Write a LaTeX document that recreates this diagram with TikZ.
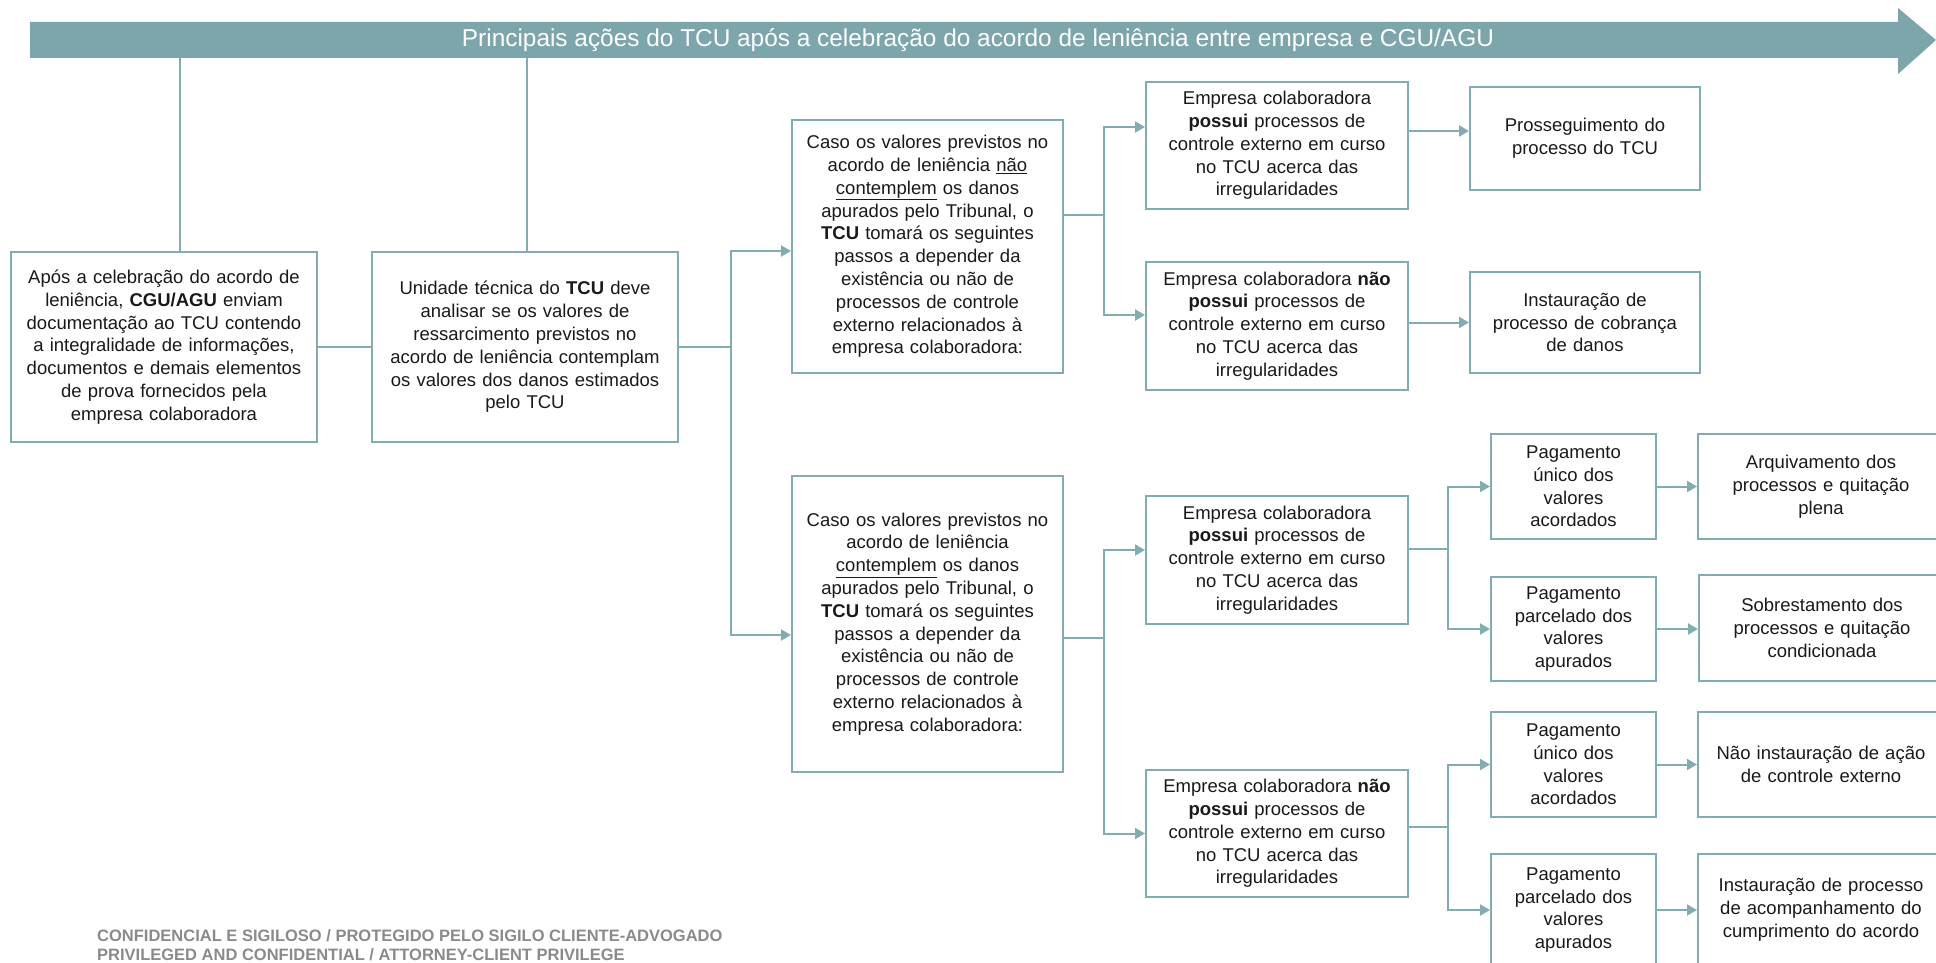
\documentclass[tikz,border=0pt]{standalone}
\usepackage{fontspec}
\setmainfont{Liberation Sans}
\usepackage{xcolor}
\usepackage{tikz}
\usetikzlibrary{arrows.meta}
\definecolor{faixa}{RGB}{124,166,172}
\definecolor{linha}{RGB}{130,172,178}
\definecolor{rodape}{RGB}{138,138,138}
\definecolor{texto}{RGB}{25,25,25}

\begin{document}
\begin{tikzpicture}[x=1pt,y=-1pt,
  caixa/.style={draw=linha,line width=2pt,text=texto,align=center,inner sep=0pt,
    font=\fontsize{18.5}{22.8}\selectfont},
  liga/.style={draw=linha,line width=2pt},
  seta/.style={liga,-{Triangle[length=10pt,width=11pt]}}]
\useasboundingbox (0,0) rectangle (1936,963);

% faixa do titulo
\fill [faixa] (30,22) -- (1898,22) -- (1898,8) -- (1936,40) -- (1898,74) -- (1898,58) -- (30,58) -- cycle;
\node [text=white,font=\fontsize{24.4}{26}\selectfont] (titulo) at (978,40)
  {Principais ações do TCU após a celebração do acordo de leniência entre empresa e CGU/AGU};

% primeira coluna
\node [caixa,minimum width=306pt,minimum height=190pt,text width=290pt] (celebracao) at (164,347)
  {Após a celebração do acordo de\\ leniência, \textbf{CGU/AGU} enviam\\ documentação ao TCU contendo\\
   a integralidade de informações,\\ documentos e demais elementos\\ de prova fornecidos pela\\ empresa colaboradora};
\node [caixa,minimum width=306pt,minimum height=190pt,text width=290pt] (analise) at (525,347)
  {Unidade técnica do \textbf{TCU} deve\\ analisar se os valores de\\ ressarcimento previstos no\\
   acordo de leniência contemplam\\ os valores dos danos estimados\\ pelo TCU};

% os dois casos
\node [caixa,minimum width=271pt,minimum height=253pt,text width=260pt] (naocontempla) at (927.5,246.5)
  {Caso os valores previstos no\\ acordo de leniência \underline{não}\\ \underline{contemplem} os danos\\
   apurados pelo Tribunal, o\\ \textbf{TCU} tomará os seguintes\\ passos a depender da\\ existência ou não de\\
   processos de controle\\ externo relacionados à\\ empresa colaboradora:};
\node [caixa,minimum width=271pt,minimum height=296pt,text width=260pt] (contempla) at (927.5,624)
  {Caso os valores previstos no\\ acordo de leniência\\ \underline{contemplem} os danos\\
   apurados pelo Tribunal, o\\ \textbf{TCU} tomará os seguintes\\ passos a depender da\\ existência ou não de\\
   processos de controle\\ externo relacionados à\\ empresa colaboradora:};

% existencia de processos
\node [caixa,minimum width=262pt,minimum height=127pt,text width=250pt] (possuiA) at (1277,145.5)
  {Empresa colaboradora\\ \textbf{possui} processos de\\ controle externo em curso\\ no TCU acerca das\\ irregularidades};
\node [caixa,minimum width=262pt,minimum height=128pt,text width=250pt] (naopossuiA) at (1277,326)
  {Empresa colaboradora \textbf{não}\\ \textbf{possui} processos de\\ controle externo em curso\\ no TCU acerca das\\ irregularidades};
\node [caixa,minimum width=262pt,minimum height=128pt,text width=250pt] (possuiB) at (1277,560)
  {Empresa colaboradora\\ \textbf{possui} processos de\\ controle externo em curso\\ no TCU acerca das\\ irregularidades};
\node [caixa,minimum width=262pt,minimum height=127pt,text width=250pt] (naopossuiB) at (1277,833.5)
  {Empresa colaboradora \textbf{não}\\ \textbf{possui} processos de\\ controle externo em curso\\ no TCU acerca das\\ irregularidades};

% resultados do primeiro caso
\node [caixa,minimum width=230pt,minimum height=103pt,text width=220pt] (prosseguimento) at (1585,138.5)
  {Prosseguimento do\\ processo do TCU};
\node [caixa,minimum width=230pt,minimum height=101pt,text width=220pt] (cobranca) at (1585,322.5)
  {Instauração de\\ processo de cobrança\\ de danos};

% forma de pagamento
\node [caixa,minimum width=165pt,minimum height=105pt,text width=155pt] (unicoA) at (1573.5,486.5)
  {Pagamento\\ único dos\\ valores\\ acordados};
\node [caixa,minimum width=165pt,minimum height=104pt,text width=155pt] (parceladoA) at (1573.5,629)
  {Pagamento\\ parcelado dos\\ valores\\ apurados};
\node [caixa,minimum width=165pt,minimum height=105pt,text width=155pt] (unicoB) at (1573.5,764.5)
  {Pagamento\\ único dos\\ valores\\ acordados};
\node [caixa,minimum width=165pt,minimum height=112pt,text width=155pt] (parceladoB) at (1573.5,910)
  {Pagamento\\ parcelado dos\\ valores\\ apurados};

% desfechos
\node [caixa,minimum width=246pt,minimum height=105pt,text width=236pt] (arquivamento) at (1821,486.5)
  {Arquivamento dos\\ processos e quitação\\ plena};
\node [caixa,minimum width=246pt,minimum height=106pt,text width=236pt] (sobrestamento) at (1822,628)
  {Sobrestamento dos\\ processos e quitação\\ condicionada};
\node [caixa,minimum width=246pt,minimum height=105pt,text width=236pt] (naoinstauracao) at (1821,764.5)
  {Não instauração de ação\\ de controle externo};
\node [caixa,minimum width=246pt,minimum height=112pt,text width=236pt] (acompanhamento) at (1821,910)
  {Instauração de processo\\ de acompanhamento do\\ cumprimento do acordo};

% pontos de ligacao
\coordinate (t1) at (180,58);
\coordinate (t2) at (527,58);
\coordinate (j1) at (731,347);
\coordinate (j2) at (1104,215);
\coordinate (j3) at (1104,638);
\coordinate (j4) at (1448,549);
\coordinate (j5) at (1448,827);
\coordinate (e7) at ([yshift=7.5pt]prosseguimento.west);

% ligacoes
\draw [liga] (t1) -- (t1 |- celebracao.north);
\draw [liga] (t2) -- (t2 |- analise.north);
\draw [liga] (celebracao.east) -- (analise.west);
\draw [liga] (analise.east) -- (j1);
\draw [seta] (j1) |- ([yshift=-4.5pt]naocontempla.west);
\draw [seta] (j1) |- ([yshift=-11pt]contempla.west);

\draw [liga] (naocontempla.east |- j2) -- (j2);
\draw [seta] (j2) |- ([yshift=18.5pt]possuiA.west);
\draw [seta] (j2) |- ([yshift=11pt]naopossuiA.west);
\draw [seta] (possuiA.east |- e7) -- (e7);
\draw [seta] (naopossuiA.east |- cobranca.west) -- (cobranca.west);

\draw [liga] (contempla.east |- j3) -- (j3);
\draw [seta] (j3) |- ([yshift=10pt]possuiB.west);
\draw [seta] (j3) |- (naopossuiB.west);

\draw [liga] (possuiB.east |- j4) -- (j4);
\draw [seta] (j4) |- (unicoA.west);
\draw [seta] (j4) |- (parceladoA.west);
\draw [liga] (naopossuiB.east |- j5) -- (j5);
\draw [seta] (j5) |- (unicoB.west);
\draw [seta] (j5) |- (parceladoB.west);

\draw [seta] (unicoA.east) -- (unicoA.east -| arquivamento.west);
\draw [seta] (parceladoA.east) -- (parceladoA.east -| sobrestamento.west);
\draw [seta] (unicoB.east) -- (unicoB.east -| naoinstauracao.west);
\draw [seta] (parceladoB.east) -- (parceladoB.east -| acompanhamento.west);

% rodape
\node [anchor=base west,inner sep=0pt,text=rodape,font=\bfseries\fontsize{16.5}{19}\selectfont] (rodape1) at (97,941)
  {CONFIDENCIAL E SIGILOSO / PROTEGIDO PELO SIGILO CLIENTE-ADVOGADO};
\node [anchor=base west,inner sep=0pt,text=rodape,font=\bfseries\fontsize{16.5}{19}\selectfont] (rodape2) at (97,960)
  {PRIVILEGED AND CONFIDENTIAL / ATTORNEY-CLIENT PRIVILEGE};
\end{tikzpicture}
\end{document}
